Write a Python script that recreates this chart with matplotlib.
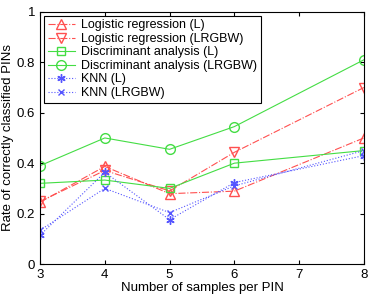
import matplotlib.pyplot as plt

plt.rcParams['font.family'] = ['Liberation Sans', 'DejaVu Sans']

samples = [3, 4, 5, 6, 8]
logit_l = [0.245, 0.387, 0.279, 0.289, 0.50]
logit_lrgbw = [0.248, 0.371, 0.29, 0.443, 0.70]
da_l = [0.32, 0.333, 0.30, 0.40, 0.45]
da_lrgbw = [0.39, 0.50, 0.455, 0.545, 0.81]
knn_l = [0.114, 0.364, 0.176, 0.323, 0.43]
knn_lrgbw = [0.134, 0.30, 0.204, 0.31, 0.45]

red = '#ff5050'
green = '#44dd44'
blue = '#5555ff'

fig = plt.figure(figsize=(3.74, 2.97), dpi=100)
ax = fig.add_axes([0.107, 0.111, 0.866, 0.849])

mk = dict(markerfacecolor='none', markersize=7, linewidth=0.8)
ax.plot(samples, logit_l, '-.', color=red, marker='^', markeredgecolor=red,
        label='Logistic regression (L)', **mk)
ax.plot(samples, logit_lrgbw, '-.', color=red, marker='v', markeredgecolor=red,
        label='Logistic regression (LRGBW)', **mk)
ax.plot(samples, da_l, '-', color=green, marker='s', markeredgecolor=green,
        label='Discriminant analysis (L)', markersize=6, markerfacecolor='none', linewidth=0.8)
ax.plot(samples, da_lrgbw, '-', color=green, marker='o', markeredgecolor=green,
        label='Discriminant analysis (LRGBW)', **mk)
ax.plot(samples, knn_l, ':', color=blue, marker=(6, 2, 0), markeredgecolor=blue,
        label='KNN (L)', markersize=6, linewidth=0.8)
ax.plot(samples, knn_lrgbw, ':', color=blue, marker='x', markeredgecolor=blue,
        label='KNN (LRGBW)', markersize=5, linewidth=0.8)

ax.set_xlim(3, 8)
ax.set_ylim(0, 1)
ax.set_xticks([3, 4, 5, 6, 7, 8])
ax.set_yticks([0, 0.2, 0.4, 0.6, 0.8, 1])
ax.set_yticklabels(['0', '0.2', '0.4', '0.6', '0.8', '1'])
ax.tick_params(direction='in', top=True, right=True, labelsize=9.5, length=3)
ax.set_xlabel('Number of samples per PIN', fontsize=9.5, labelpad=1)
ax.set_ylabel('Rate of correctly classified PINs', fontsize=9.5, labelpad=2)

leg = ax.legend(loc='upper left', fontsize=9, fancybox=False, framealpha=1,
                edgecolor='black', borderaxespad=0.3, handlelength=2.2,
                labelspacing=0.12, borderpad=0.3, handletextpad=0.5)
leg.get_frame().set_linewidth(0.8)

fig.savefig('out.png', dpi=100)
